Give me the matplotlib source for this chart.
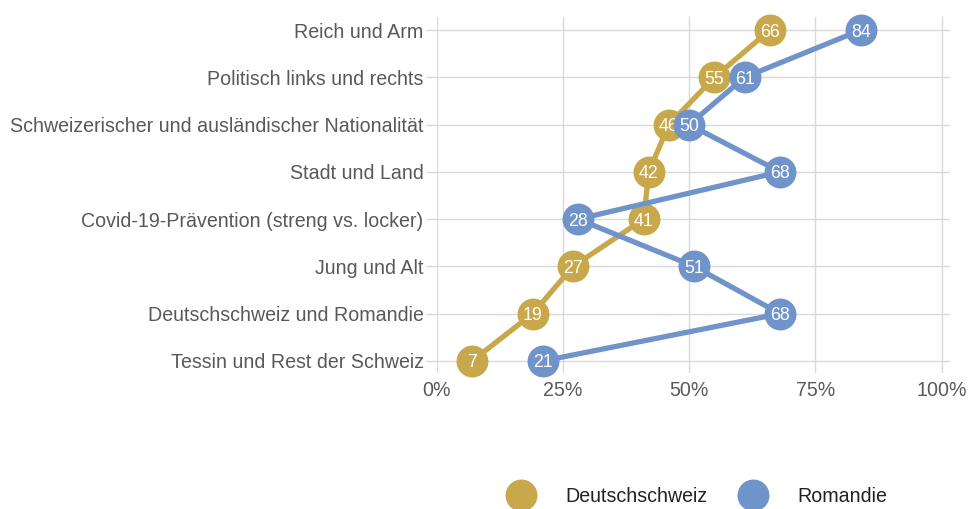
import matplotlib
matplotlib.use("Agg")
import matplotlib.pyplot as plt
from matplotlib.lines import Line2D

plt.rcParams['font.family'] = ['Liberation Sans', 'DejaVu Sans']

categories = [
    "Reich und Arm",
    "Politisch links und rechts",
    "Schweizerischer und ausländischer Nationalität",
    "Stadt und Land",
    "Covid-19-Prävention (streng vs. locker)",
    "Jung und Alt",
    "Deutschschweiz und Romandie",
    "Tessin und Rest der Schweiz",
]
deutschschweiz = [66, 55, 46, 42, 41, 27, 19, 7]
romandie = [84, 61, 50, 68, 28, 51, 68, 21]
series_names = ["Deutschschweiz", "Romandie"]
x_ticks = [0, 25, 50, 75, 100]
x_ticklabels = ["0%", "25%", "50%", "75%", "100%"]

gold = "#C8A84B"
blue = "#7094C9"
grid_c = "#D9D9D9"

W, H = 968, 509
fig = plt.figure(figsize=(W / 100, H / 100), dpi=100)
left, right, top, bottom = 436.7, 950, 17, 373
ax = fig.add_axes([left / W, 1 - bottom / H, (right - left) / W, (bottom - top) / H])

ypos = list(range(len(categories)))
for vals, col, z in [(deutschschweiz, gold, 3), (romandie, blue, 5)]:
    ax.plot(vals, ypos, color=col, lw=3.8, zorder=z, solid_capstyle='round', clip_on=False)
    ax.plot(vals, ypos, 'o', color=col, markersize=23, markeredgewidth=0, zorder=z + 0.5,
            clip_on=False)
    for v, y in zip(vals, ypos):
        ax.text(v, y, str(v), color="white", fontsize=12.8, ha="center",
                va="center_baseline", zorder=z + 1)

ax.set_xlim(0, 101.65)
ax.set_ylim(len(categories) - 1 + 0.254, -0.275)
ax.set_yticks(ypos)
ax.set_yticklabels(categories)
ax.set_xticks(x_ticks)
ax.set_xticklabels(x_ticklabels)
ax.grid(True, color=grid_c, lw=1)
ax.set_axisbelow(True)
for s in ax.spines.values():
    s.set_visible(False)
ax.tick_params(axis='y', length=8, color=grid_c, width=1, labelsize=14.15,
               labelcolor="#595959", pad=1.5)
ax.tick_params(axis='x', length=0, labelsize=14.15, labelcolor="#595959", pad=6)

handles = [Line2D([], [], marker='o', ls='none', color=c, markersize=23, markeredgewidth=0)
           for c in (gold, blue)]
fig.legend(handles, series_names, loc='center', bbox_to_anchor=(694.5 / W, 1 - 496 / H),
           ncol=2, frameon=False, fontsize=14.15, handletextpad=1.25, columnspacing=1.32,
           labelcolor="#222222", borderaxespad=0, borderpad=0)

fig.savefig("out.png", dpi=100)
